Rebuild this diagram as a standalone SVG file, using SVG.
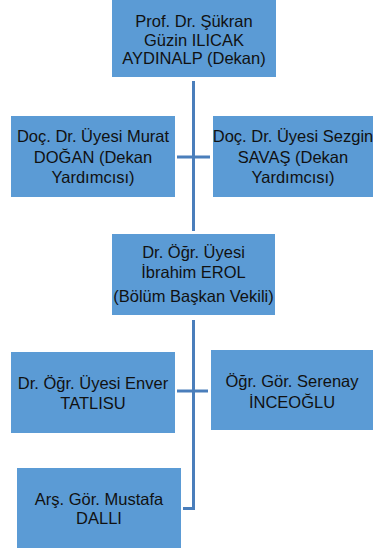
<svg xmlns="http://www.w3.org/2000/svg" width="373" height="551" viewBox="0 0 373 551">
<style>
.box{fill:#5b9bd5;}
.t{font-family:"Liberation Sans",Arial,sans-serif;font-size:16.5px;fill:#111;text-anchor:middle;}
.c{stroke:#4a7ebb;stroke-width:3;fill:none;}
</style>
<rect width="373" height="551" fill="#fff"/>
<g id="connectors">
<path class="c" d="M193.5 81 V231"/>
<path class="c" d="M177 157 H210"/>
<path class="c" d="M193.5 320 V508.5 H183"/>
<path class="c" d="M177 391 H208"/>
</g>
<g id="dekan">
<rect class="box" x="112" y="0" width="164" height="77"/>
<text class="t" x="194" y="27">Prof. Dr. Şükran</text>
<text class="t" x="194" y="45.5">Güzin ILICAK</text>
<text class="t" x="194" y="64">AYDINALP (Dekan)</text>
</g>
<g id="murat">
<rect class="box" x="11" y="116" width="164" height="81"/>
<text class="t" x="93" y="142">Doç. Dr. Üyesi Murat</text>
<text class="t" x="93" y="163">DOĞAN (Dekan</text>
<text class="t" x="93" y="183">Yardımcısı)</text>
</g>
<g id="sezgin">
<rect class="box" x="213" y="116" width="160" height="81"/>
<text class="t" x="293" y="142">Doç. Dr. Üyesi Sezgin</text>
<text class="t" x="293" y="163">SAVAŞ (Dekan</text>
<text class="t" x="293" y="183">Yardımcısı)</text>
</g>
<g id="ibrahim">
<rect class="box" x="112" y="234" width="163" height="81"/>
<text class="t" x="193.5" y="258">Dr. Öğr. Üyesi</text>
<text class="t" x="193.5" y="278">İbrahim EROL</text>
<text class="t" x="193.5" y="302">(Bölüm Başkan Vekili)</text>
</g>
<g id="enver">
<rect class="box" x="11" y="352" width="164" height="81"/>
<text class="t" x="93" y="389">Dr. Öğr. Üyesi Enver</text>
<text class="t" x="93" y="409">TATLISU</text>
</g>
<g id="serenay">
<rect class="box" x="211" y="350" width="162" height="80"/>
<text class="t" x="292" y="387">Öğr. Gör. Serenay</text>
<text class="t" x="292" y="408">İNCEOĞLU</text>
</g>
<g id="mustafa">
<rect class="box" x="17" y="468" width="164" height="80"/>
<text class="t" x="99" y="504.5">Arş. Gör. Mustafa</text>
<text class="t" x="99" y="524">DALLI</text>
</g>
</svg>
